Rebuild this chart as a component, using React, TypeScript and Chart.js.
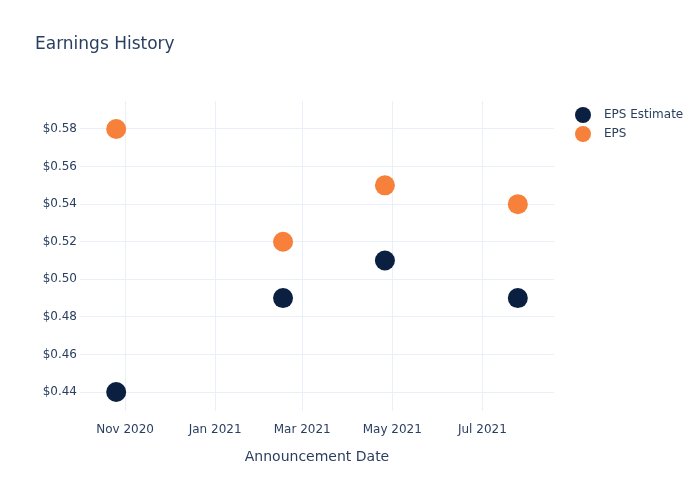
import React, { useEffect, useRef } from "react";
import { Chart, registerables } from "chart.js";

Chart.register(...registerables);

// ---- data ----
const announcementDates = ["2020-10-26", "2021-02-16", "2021-04-26", "2021-07-25"];
const epsEstimate = [0.44, 0.49, 0.51, 0.49];
const epsActual = [0.58, 0.52, 0.55, 0.54];
const xTickDates = ["2020-11-01", "2021-01-01", "2021-03-01", "2021-05-01", "2021-07-01"];
const xTickLabels = ["Nov 2020", "Jan 2021", "Mar 2021", "May 2021", "Jul 2021"];
const yTickValues = [0.44, 0.46, 0.48, 0.5, 0.52, 0.54, 0.56, 0.58];
const seriesNames = ["EPS Estimate", "EPS"];
const seriesColors = ["#0b1f41", "#f7803a"];
const chartTitle = "Earnings History";
const xAxisTitle = "Announcement Date";

const toMs = (d: string) => {
  const [y, m, dd] = d.split("-").map(Number);
  return Date.UTC(y, m - 1, dd);
};

const DAY = 86400000;
const xMin = toMs(announcementDates[0]) - 24.5 * DAY;
const xMax = toMs(announcementDates[announcementDates.length - 1]) + 24.5 * DAY;
const yMin = 0.4299;
const yMax = 0.5949;

const FONT = "'DejaVu Sans', 'Open Sans', Verdana, Arial, sans-serif";
const TEXT = "#2a3f5f";
const GRID = "#ebf0f8";

const overlayPlugin = {
  id: "plotlyOverlay",
  afterDraw(chart: any) {
    const ctx = chart.ctx as CanvasRenderingContext2D;
    const area = chart.chartArea;
    ctx.save();
    // title
    ctx.fillStyle = TEXT;
    ctx.font = `17px ${FONT}`;
    ctx.textAlign = "left";
    ctx.textBaseline = "middle";
    ctx.fillText(chartTitle, 35, 45);
    // x axis title
    ctx.font = `14px ${FONT}`;
    ctx.textAlign = "center";
    ctx.fillText(xAxisTitle, (area.left + area.right) / 2, 457);
    // legend
    ctx.font = `12px ${FONT}`;
    ctx.textAlign = "left";
    seriesNames.forEach((name, i) => {
      const cy = 115 + i * 19;
      ctx.beginPath();
      ctx.arc(583, cy, 8, 0, Math.PI * 2);
      ctx.fillStyle = seriesColors[i];
      ctx.fill();
      ctx.fillStyle = TEXT;
      ctx.fillText(name, 604, cy);
    });
    ctx.restore();
  },
};

export default function App() {
  const ref = useRef<HTMLCanvasElement | null>(null);

  useEffect(() => {
    if (!ref.current) return;
    const toPoints = (vals: number[]) =>
      vals.map((v, i) => ({ x: toMs(announcementDates[i]), y: v }));

    const chart = new Chart(ref.current, {
      type: "scatter",
      data: {
        datasets: [
          {
            label: seriesNames[0],
            data: toPoints(epsEstimate),
            backgroundColor: seriesColors[0],
            borderColor: seriesColors[0],
            borderWidth: 0,
            pointRadius: 10,
            pointHoverRadius: 10,
          },
          {
            label: seriesNames[1],
            data: toPoints(epsActual),
            backgroundColor: seriesColors[1],
            borderColor: seriesColors[1],
            borderWidth: 0,
            pointRadius: 10,
            pointHoverRadius: 10,
          },
        ],
      },
      options: {
        responsive: false,
        animation: false,
        layout: { padding: { top: 101, left: 0, right: 146, bottom: 0 } },
        plugins: {
          legend: { display: false },
          title: { display: false },
          tooltip: { enabled: false },
        },
        scales: {
          x: {
            type: "linear",
            min: xMin,
            max: xMax,
            afterFit: (s: any) => {
              s.height = 89;
            },
            afterBuildTicks: (s: any) => {
              s.ticks = xTickDates.map((d) => ({ value: toMs(d) }));
            },
            grid: { color: GRID, lineWidth: 1, drawTicks: false },
            border: { display: false },
            ticks: {
              padding: 12,
              color: TEXT,
              font: { family: FONT, size: 12 },
              maxRotation: 0,
              autoSkip: false,
              callback: (v: any) => {
                const idx = xTickDates.findIndex((d) => toMs(d) === v);
                return idx >= 0 ? xTickLabels[idx] : "";
              },
            },
          },
          y: {
            type: "linear",
            min: yMin,
            max: yMax,
            afterFit: (s: any) => {
              s.width = 80;
            },
            afterBuildTicks: (s: any) => {
              s.ticks = yTickValues.map((v) => ({ value: v }));
            },
            grid: { color: GRID, lineWidth: 1, drawTicks: false },
            border: { display: false },
            ticks: {
              padding: 3,
              color: TEXT,
              font: { family: FONT, size: 12 },
              callback: (v: any) => "$" + Number(v).toFixed(2),
            },
          },
        },
      },
      plugins: [overlayPlugin],
    } as any);

    return () => chart.destroy();
  }, []);

  return (
    <div style={{ position: "fixed", left: 0, top: 0, width: 700, height: 500, background: "#fff" }}>
      <canvas ref={ref} width={700} height={500} style={{ width: 700, height: 500 }} />
    </div>
  );
}
